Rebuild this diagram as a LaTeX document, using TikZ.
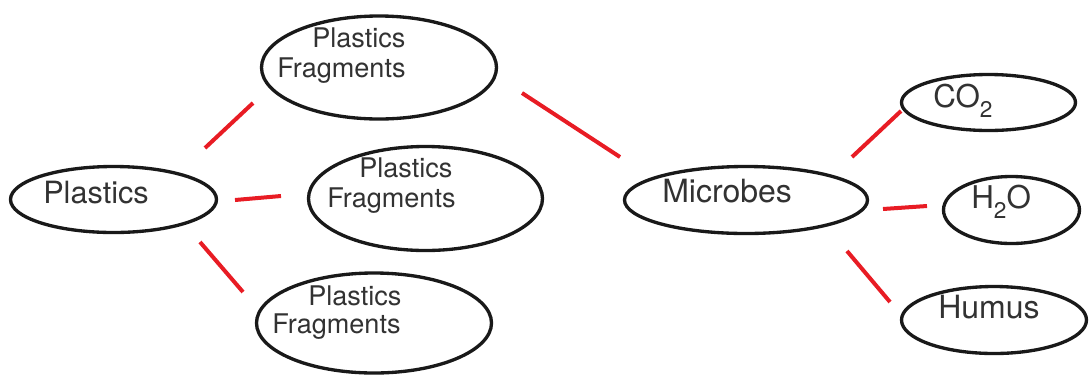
\documentclass[tikz,border=0pt]{standalone}
\usepackage{fontspec}
\setmainfont{TeX Gyre Heros}
\usetikzlibrary{shapes.geometric}
\definecolor{linkred}{RGB}{232,28,36}
\definecolor{txtgray}{RGB}{50,50,50}
\newcommand{\sublow}[1]{\raisebox{-0.33em}{\fontsize{17}{17}\selectfont #1}}
\begin{document}
\begin{tikzpicture}[x=0.75pt,y=-0.75pt,
  ell/.style={draw=black!90,line width=2.5pt,ellipse,inner sep=0pt},
  lbl/.style={anchor=base west,inner sep=0pt,text=txtgray},
  link/.style={draw=linkred,line width=3pt}]
\useasboundingbox (0,0) rectangle (1089,376);
% ellipses
\node[ell,minimum width=154.5pt,minimum height=49.5pt] (plastics) at (113.5,199.5) {};
\node[ell,minimum width=176.25pt,minimum height=77.25pt] (frag1) at (379,67.5) {};
\node[ell,minimum width=175.5pt,minimum height=78pt] (frag2) at (425.5,198.5) {};
\node[ell,minimum width=176.25pt,minimum height=75pt] (frag3) at (374,323) {};
\node[ell,minimum width=182.25pt,minimum height=50.25pt] (microbes) at (746,200) {};
\node[ell,minimum width=130.5pt,minimum height=42pt] (co2) at (988.5,102.5) {};
\node[ell,minimum width=102pt,minimum height=50.25pt] (h2o) at (1011.5,210) {};
\node[ell,minimum width=138.75pt,minimum height=50.25pt] (humus) at (994,320) {};
% labels
\node[lbl,font=\fontsize{23}{23}\selectfont] (tplastics) at (43,203) {Plastics};
\node[lbl,font=\fontsize{20.3}{20.3}\selectfont] (tf1a) at (312,47) {Plastics};
\node[lbl,font=\fontsize{20.3}{20.3}\selectfont] (tf1b) at (277,77) {Fragments};
\node[lbl,font=\fontsize{20.3}{20.3}\selectfont] (tf2a) at (359,177) {Plastics};
\node[lbl,font=\fontsize{20.3}{20.3}\selectfont] (tf2b) at (327,207) {Fragments};
\node[lbl,font=\fontsize{20.3}{20.3}\selectfont] (tf3a) at (308,305) {Plastics};
\node[lbl,font=\fontsize{20.3}{20.3}\selectfont] (tf3b) at (272,333) {Fragments};
\node[lbl,font=\fontsize{24}{24}\selectfont] (tmicrobes) at (662,202) {Microbes};
\node[lbl,font=\fontsize{23.5}{23.5}\selectfont] (tco2) at (933,107) {CO\sublow{2}};
\node[lbl,font=\fontsize{23.5}{23.5}\selectfont] (th2o) at (971,208) {H\sublow{2}O};
\node[lbl,font=\fontsize{24}{24}\selectfont] (thumus) at (938,318) {Humus};
% connector end points
\coordinate (a1) at (205,148); \coordinate (a2) at (253,103);
\coordinate (b1) at (235,200); \coordinate (b2) at (281,196);
\coordinate (c1) at (200,242); \coordinate (c2) at (243,292);
\coordinate (d1) at (522,93);  \coordinate (d2) at (620,157);
\coordinate (e1) at (852,157); \coordinate (e2) at (901,111);
\coordinate (f1) at (883,209); \coordinate (f2) at (927,206);
\coordinate (g1) at (847,251); \coordinate (g2) at (890,302);
\draw[link] (a1) -- (a2);
\draw[link] (b1) -- (b2);
\draw[link] (c1) -- (c2);
\draw[link] (d1) -- (d2);
\draw[link] (e1) -- (e2);
\draw[link] (f1) -- (f2);
\draw[link] (g1) -- (g2);
\end{tikzpicture}
\end{document}
